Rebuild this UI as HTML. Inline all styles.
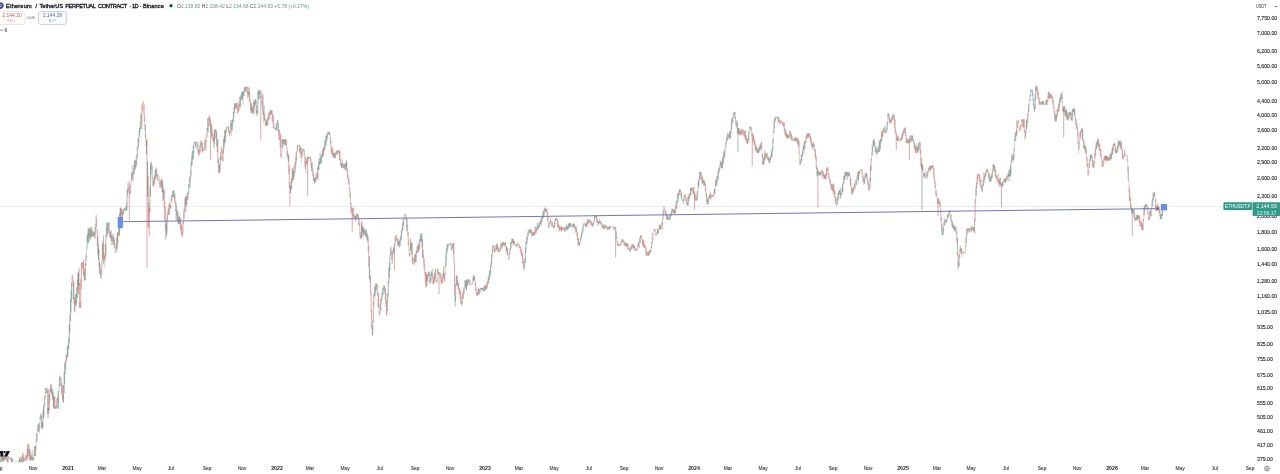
<!DOCTYPE html>
<html lang="en"><head><meta charset="utf-8"><title>ETHUSDT.P chart</title>
<style>
html,body{margin:0;padding:0;background:#fff;}
body{width:1280px;height:474px;overflow:hidden;position:relative;font-family:"Liberation Sans",sans-serif;color:#131722;-webkit-font-smoothing:antialiased;}
#wrap{position:absolute;left:0;top:0;width:1280px;height:474px;overflow:hidden;background:#fff;}
.t{position:absolute;white-space:nowrap;line-height:1;}
.yl{left:1256.8px;font-size:5.8px;color:#131722;-webkit-text-stroke:0.1px #131722;transform:translateY(-50%) scaleX(0.895);transform-origin:0 50%;}
.xl{top:468.5px;font-size:5.7px;color:#2a2e39;-webkit-text-stroke:0.08px #2a2e39;transform:translate(-50%,-50%) scaleX(0.86);}
.xl.b{font-weight:bold;color:#131722;transform:translate(-50%,-50%) scaleX(0.91);}
svg{position:absolute;left:0;top:0;}
</style></head><body><div id="wrap">

<div class="t" style="left:1256.8px;top:214px;font-size:5.8px;color:#131722;transform:scaleX(0.895);transform-origin:0 0;-webkit-text-stroke:0.1px #131722">2,000.00</div>
<svg width="1280" height="474" viewBox="0 0 1280 474">
<line x1="0" y1="206.5" x2="1223" y2="206.5" stroke="#c4c7cf" stroke-width="0.6" stroke-dasharray="0.7 0.5"/>
<defs><clipPath id="cc"><rect x="0" y="0" width="1254" height="462.2"/></clipPath></defs>
<g clip-path="url(#cc)"><path d="M-1.00 454.86V461.32M1.29 454.80V460.42M3.57 455.69V460.49M5.86 454.80V459.47M7.00 455.58V464.62M9.29 457.14V457.74M11.57 457.86V468.70M15.00 461.85V465.13M23.00 452.80V464.69M25.29 455.22V460.70M26.43 455.07V460.54M27.57 443.80V458.52M28.72 443.80V455.53M31.00 454.87V460.20M35.58 445.85V456.31M39.01 423.09V431.87M43.01 409.88V427.69M47.58 390.07V414.21M48.72 388.88V413.10M51.58 384.37V394.29M53.86 396.22V408.70M55.01 396.30V408.70M60.72 377.60V386.27M61.87 383.12V395.22M62.44 385.33V399.41M63.01 394.49V402.70M66.44 354.20V361.74M69.87 314.41V332.69M72.15 275.30V285.78M73.87 280.50V303.36M74.44 297.36V312.22M78.44 271.42V294.21M79.58 282.93V307.70M80.72 278.76V307.70M81.30 262.44V289.08M82.44 262.30V267.80M83.58 259.74V276.01M85.30 263.22V279.95M89.30 228.84V237.05M92.73 231.11V236.70M96.16 214.80V226.78M97.30 229.80V245.59M98.44 244.63V259.98M99.58 262.06V274.24M100.73 268.54V278.70M103.01 240.93V258.76M103.58 235.25V264.36M104.16 254.02V261.24M105.30 243.97V259.63M108.73 222.30V230.77M109.87 231.09V237.65M112.16 234.01V241.28M116.73 237.55V251.33M117.87 232.04V242.98M120.73 207.30V224.08M121.30 209.02V215.33M122.44 211.03V219.54M128.16 187.69V193.11M129.30 181.39V220.00M131.59 172.34V180.58M132.73 172.64V180.42M136.16 156.81V167.04M138.45 137.18V147.48M141.88 104.27V128.80M143.02 101.00V101.60M144.16 104.76V121.92M147.02 138.42V268.00M148.16 175.88V228.00M148.73 202.49V226.90M149.30 207.87V236.00M154.45 175.28V184.32M156.73 168.55V176.23M160.16 180.65V188.35M161.31 179.04V187.81M163.59 189.62V199.15M164.16 188.96V208.04M164.74 201.08V219.99M165.31 207.03V230.45M165.88 224.18V239.70M169.31 203.56V214.75M175.02 194.17V203.00M179.59 216.21V223.86M180.74 217.66V230.69M181.88 224.97V236.77M183.02 221.83V233.61M184.17 207.87V219.21M185.88 196.04V212.27M186.45 196.70V204.80M199.03 149.68V155.70M200.17 142.83V152.65M201.31 140.30V145.91M202.45 142.61V151.76M204.74 139.61V148.18M209.31 116.35V126.14M210.46 119.13V160.00M212.74 131.86V140.58M216.17 129.30V138.00M217.31 138.69V152.05M217.88 138.92V163.49M218.46 159.14V172.72M221.88 147.25V160.00M223.03 149.80V161.67M225.31 130.28V142.14M228.74 125.47V133.15M229.89 130.44V136.36M235.60 103.30V109.18M236.74 103.30V108.23M237.89 106.92V113.70M239.03 103.93V111.41M244.75 86.80V91.75M247.03 86.80V93.22M249.32 87.28V102.11M250.46 100.93V110.52M252.75 105.88V113.20M260.75 92.16V140.00M261.89 96.13V104.64M264.18 105.56V119.98M265.32 118.30V125.70M267.61 117.55V125.70M268.75 112.59V119.88M269.89 110.30V116.43M272.18 110.30V121.03M273.32 115.45V128.20M279.04 130.20V139.98M280.18 135.31V146.96M280.75 133.56V156.41M281.32 153.96V158.20M283.61 139.30V144.85M284.75 139.30V144.06M287.04 147.59V156.15M288.75 155.14V173.62M289.32 165.33V187.60M289.89 182.36V206.00M292.18 168.15V182.88M295.04 161.88V172.95M296.18 151.54V163.93M297.32 145.30V150.78M300.75 146.85V157.63M303.04 149.00V149.60M305.32 156.74V168.72M306.47 159.05V164.38M307.61 156.88V196.00M311.04 158.75V168.28M313.32 172.08V180.78M316.75 172.96V179.00M323.61 147.35V156.17M330.47 137.34V144.82M331.61 146.10V153.91M332.76 147.84V156.51M335.04 152.79V158.20M336.19 150.30V153.89M338.47 150.30V152.52M339.61 150.30V159.99M340.76 158.87V166.07M341.90 162.69V168.07M344.19 163.85V169.19M347.62 169.20V178.86M348.76 177.64V184.78M349.90 187.63V197.63M351.04 202.42V213.42M352.19 207.35V232.00M353.33 208.08V218.10M357.90 214.30V218.56M359.05 217.80V225.87M360.19 231.64V238.70M361.33 222.63V238.70M368.19 236.83V251.12M368.76 246.01V267.53M370.48 275.66V293.65M371.05 291.55V312.35M371.62 310.64V328.99M373.33 301.44V322.36M373.90 293.27V304.95M377.33 284.65V294.98M378.48 293.31V308.40M379.62 311.20V315.70M385.33 288.63V299.83M385.91 292.56V306.66M386.48 299.35V315.25M391.05 247.24V254.35M394.48 243.34V270.00M395.62 235.34V242.07M396.76 235.30V240.51M402.48 222.72V231.17M404.76 214.00V214.60M405.91 214.30V220.51M408.19 231.75V245.42M409.34 252.67V256.40M412.19 242.73V261.74M412.77 257.67V264.45M415.05 253.61V261.84M418.48 244.84V252.03M422.48 239.11V257.43M424.20 258.87V270.39M425.34 271.59V283.03M425.91 272.22V287.64M426.48 273.65V286.75M427.62 274.71V280.87M432.20 269.06V278.25M433.34 278.25V284.20M434.48 272.72V282.38M437.91 268.80V273.63M439.06 272.30V294.00M440.20 272.30V277.51M441.34 277.14V284.20M442.48 274.28V282.84M443.63 266.09V278.73M444.77 272.98V281.94M449.34 243.52V245.17M450.49 243.05V245.25M452.77 243.05V247.81M453.91 243.05V261.94M454.49 262.02V295.95M458.49 283.01V289.76M459.63 288.20V294.36M460.77 291.36V304.18M463.06 291.25V298.97M467.63 279.30V285.89M468.77 279.30V283.17M471.06 284.15V284.75M474.49 276.21V280.50M475.63 282.56V291.21M476.77 292.52V295.70M479.06 288.96V294.35M481.35 288.05V289.10M484.78 285.15V291.46M487.06 281.63V288.72M488.20 276.65V283.87M493.92 245.55V250.92M495.06 249.84V252.28M497.35 243.48V249.03M498.49 247.27V251.70M503.06 241.80V245.14M505.35 241.80V245.10M506.49 245.93V251.91M508.78 258.06V259.45M509.92 248.18V254.41M513.35 239.00V243.84M514.49 241.07V244.91M517.92 243.92V244.52M519.07 244.30V247.70M520.21 246.46V250.53M521.35 249.70V255.29M522.49 253.05V263.04M530.50 229.30V232.93M531.64 229.93V236.00M535.07 226.85V234.20M536.21 228.65V233.30M540.78 219.81V224.82M546.50 208.59V212.58M547.64 212.50V220.72M549.93 221.08V224.03M551.07 220.96V222.49M552.21 221.83V226.11M553.36 226.23V228.20M555.64 218.05V221.41M556.78 218.05V221.18M557.93 220.40V227.24M559.07 225.29V231.70M560.21 226.55V230.28M561.36 225.97V231.70M563.64 227.25V229.38M565.93 227.13V231.25M570.50 223.05V226.64M571.64 225.67V227.04M575.07 225.22V229.41M576.22 226.20V232.11M577.36 232.04V240.11M578.50 238.62V245.70M584.22 223.05V224.26M585.36 223.63V226.79M586.50 222.54V226.70M589.93 220.06V222.78M591.07 221.75V225.49M592.22 223.22V226.70M595.65 215.30V217.71M596.79 215.89V223.15M601.36 222.40V224.84M603.65 224.00V228.98M604.79 224.80V229.45M607.08 226.83V229.61M608.22 226.73V229.64M609.36 226.52V229.94M611.65 226.43V227.03M612.79 226.60V227.20M613.93 226.80V229.95M615.08 226.80V229.79M615.65 226.92V257.50M617.36 241.24V245.70M619.65 244.82V245.70M620.79 242.34V245.70M621.94 239.30V242.78M624.22 241.13V244.80M626.51 243.00V246.07M627.65 243.48V250.14M628.79 246.66V249.20M636.79 248.05V250.70M637.94 243.45V247.33M641.37 234.80V238.45M642.51 239.12V245.25M643.65 240.00V246.98M645.94 250.40V255.70M647.08 252.54V255.70M648.22 251.11V255.70M651.65 241.60V248.44M652.80 232.95V240.97M658.51 229.94V233.55M660.80 224.50V229.71M665.37 210.20V215.19M666.51 213.18V219.59M673.37 208.89V212.71M675.66 205.44V212.79M679.09 189.63V195.37M684.80 195.05V197.72M685.94 196.49V201.62M688.23 194.80V205.70M692.80 188.38V193.95M693.94 186.80V195.07M694.52 191.61V210.00M695.09 193.69V200.70M700.80 172.24V180.14M701.95 177.00V184.41M703.09 178.97V183.08M705.37 183.44V191.59M707.66 198.61V204.70M708.80 196.27V202.44M712.23 195.21V196.70M713.38 194.92V196.70M715.66 179.89V186.66M719.09 168.19V172.86M723.66 150.84V164.30M727.09 134.98V141.36M728.23 133.44V136.82M733.95 111.80V116.11M736.24 119.93V126.48M738.52 127.88V133.76M739.66 130.16V135.70M743.09 130.20V135.67M744.24 130.78V136.60M745.38 130.28V139.97M746.52 136.58V142.56M752.24 132.24V166.00M753.38 134.36V141.26M754.52 139.58V145.21M756.81 146.28V153.20M761.38 141.80V147.76M762.52 154.28V164.19M765.95 153.58V159.19M768.24 156.22V160.16M770.52 155.73V160.42M777.38 116.80V118.07M778.53 117.09V122.60M779.67 120.20V123.40M780.81 119.92V123.12M781.96 121.50V122.10M783.10 121.97V125.57M784.24 121.98V130.69M786.53 132.65V138.20M787.67 134.34V138.20M789.96 130.74V134.64M792.24 136.34V140.70M793.38 140.40V141.00M794.53 137.67V141.52M799.10 141.02V154.32M800.24 161.16V165.04M803.67 144.88V150.19M805.96 136.22V142.35M808.24 133.42V138.57M809.39 133.30V136.79M810.53 136.12V142.42M811.67 140.72V147.30M813.96 141.80V146.63M815.10 148.35V157.48M816.25 156.29V169.32M817.96 171.41V207.50M818.53 170.21V174.13M821.96 169.30V172.01M823.10 171.45V175.97M824.25 174.65V178.73M826.53 168.27V175.38M827.68 166.80V171.10M828.82 172.68V177.97M829.96 178.79V184.40M831.10 183.94V189.25M832.25 184.38V191.27M833.39 184.38V191.16M834.53 189.84V197.04M835.68 196.47V203.97M839.11 190.53V194.25M845.96 171.80V176.45M850.53 178.13V186.29M851.68 187.16V194.70M853.96 185.25V190.43M855.11 183.44V188.74M857.39 171.92V179.67M859.68 170.30V174.03M861.97 169.30V174.20M863.11 175.05V181.83M865.39 173.30V178.19M867.68 177.64V184.76M868.82 183.79V190.70M871.11 158.78V170.93M881.40 131.39V141.46M882.54 130.41V137.08M889.40 116.49V122.77M890.54 119.92V122.75M893.97 113.30V121.17M895.11 119.58V132.90M896.25 132.23V150.00M897.40 136.46V140.70M898.54 136.47V140.70M899.68 140.40V141.00M903.11 130.78V135.94M905.40 127.48V136.37M906.54 137.53V143.20M909.40 139.13V160.00M915.69 146.33V153.20M916.83 146.75V152.86M920.26 142.73V153.42M920.83 149.55V165.64M921.40 157.91V168.82M922.54 164.36V170.36M923.69 173.00V177.65M925.97 177.09V178.20M928.26 168.28V173.06M929.40 166.21V169.96M931.69 165.30V169.02M932.83 165.30V168.98M933.97 168.56V179.63M935.12 180.29V187.81M936.26 190.34V196.60M937.40 198.89V203.94M937.97 198.61V216.00M938.55 198.07V203.84M939.69 201.85V207.23M940.83 209.79V221.84M948.83 211.51V216.70M955.69 227.88V231.66M956.83 231.24V242.99M957.98 252.77V269.45M961.41 248.28V253.27M963.69 251.25V253.20M968.26 228.30V230.69M970.55 227.95V228.81M971.69 226.01V231.37M972.84 227.59V230.59M975.12 198.97V221.70M977.41 174.30V184.06M978.55 174.30V175.97M979.69 174.30V182.43M980.84 179.82V188.00M986.55 169.30V172.66M987.70 169.30V172.85M995.70 169.54V177.32M996.84 176.39V179.25M997.98 178.68V182.66M1001.41 183.08V207.50M1003.70 179.65V182.64M1007.13 175.98V180.20M1011.70 154.24V163.69M1012.84 156.54V160.38M1016.84 120.30V134.73M1017.41 122.85V128.27M1018.56 120.30V122.81M1020.84 124.28V129.49M1021.99 119.30V121.76M1023.13 119.30V127.47M1024.27 119.30V132.92M1027.70 113.21V123.15M1036.84 85.35V91.18M1037.99 91.48V98.86M1039.13 97.59V104.70M1044.85 104.40V105.00M1045.99 99.50V104.70M1048.27 91.96V98.62M1049.42 92.27V98.71M1050.56 94.03V97.81M1052.85 97.00V104.91M1053.99 105.54V113.54M1057.42 109.71V115.99M1058.56 103.60V111.70M1061.99 91.55V99.27M1063.70 107.26V137.50M1067.70 112.26V119.98M1069.99 111.80V115.18M1075.71 117.84V124.41M1077.99 130.11V144.29M1080.28 131.70V139.25M1081.42 128.30V133.42M1087.14 157.32V167.11M1088.28 170.90V175.70M1089.42 159.38V167.82M1092.85 159.56V167.36M1095.14 148.72V157.99M1098.57 139.06V147.06M1099.71 143.66V150.86M1100.85 149.36V157.83M1103.14 160.83V166.70M1104.28 155.85V160.98M1105.42 156.01V160.45M1106.57 155.30V162.43M1107.71 156.45V160.70M1108.85 156.49V160.70M1113.42 143.79V150.55M1114.57 143.30V146.01M1115.71 146.56V153.20M1121.43 142.24V150.20M1122.57 150.09V158.78M1127.14 155.30V160.89M1129.43 187.53V201.28M1130.57 197.66V207.90M1132.28 208.95V236.00M1135.14 217.17V220.70M1138.57 215.30V218.98M1139.71 215.30V222.52M1142.00 221.73V229.94M1143.14 219.03V230.00M1147.71 205.98V214.45M1150.00 209.62V217.34M1154.57 191.80V196.23M1155.72 199.12V206.36M1156.86 207.32V210.40M1158.00 203.85V210.20M1162.57 206.80V215.64" stroke="#c9625e" stroke-width="0.56" opacity="1" fill="none" style="mix-blend-mode:multiply"/><path d="M0.14 460.20V464.35M2.43 454.80V463.10M4.71 454.80V460.15M8.14 456.07V465.97M10.43 457.80V459.64M12.72 459.14V466.36M13.86 465.60V470.28M16.14 461.62V467.14M17.29 463.19V467.49M18.43 461.19V467.17M19.57 457.41V462.22M20.72 459.37V467.74M21.86 456.55V463.15M24.15 457.66V460.70M29.86 449.10V460.33M32.15 450.07V460.23M33.29 456.65V460.70M34.43 445.75V455.98M36.72 432.92V441.92M37.86 424.92V431.44M40.15 415.91V419.88M41.29 414.22V428.51M42.43 422.24V429.12M43.58 405.67V418.11M44.72 395.58V406.13M45.86 387.80V393.79M47.01 387.80V393.04M48.15 407.89V417.79M49.29 393.68V410.17M50.44 384.30V392.55M52.72 388.78V400.08M53.29 392.59V408.08M56.15 405.67V408.70M57.29 397.15V407.55M58.44 390.83V408.70M59.58 376.58V386.14M63.58 384.85V401.96M64.15 371.78V393.01M64.72 362.48V383.70M65.29 361.43V373.19M67.58 345.37V357.03M68.72 337.45V349.11M69.29 323.92V342.71M70.44 300.29V321.02M71.01 290.63V312.67M71.58 282.89V301.52M73.30 282.22V299.18M75.58 294.27V306.25M76.72 287.75V303.61M77.30 279.51V297.95M77.87 273.06V290.03M79.01 268.06V285.45M80.15 302.75V307.70M84.72 268.07V280.70M85.87 254.92V266.20M87.01 235.33V249.37M88.15 227.61V241.46M88.73 228.86V243.18M90.44 227.30V239.19M91.58 227.30V237.55M93.87 231.63V236.70M95.01 226.90V239.10M97.87 235.79V254.88M99.01 249.36V267.76M101.87 260.71V274.66M102.44 243.70V260.81M105.87 234.90V256.29M106.44 222.30V236.38M107.59 222.30V233.36M111.01 230.01V240.81M113.30 236.47V244.43M114.44 239.35V248.55M115.59 252.40V253.00M117.30 232.82V248.62M119.02 224.50V235.24M119.59 212.92V235.76M120.16 207.96V229.30M123.59 209.71V214.08M124.73 208.00V210.70M125.87 206.08V210.70M127.02 190.07V210.17M130.44 185.45V193.43M133.87 164.29V174.28M135.02 160.23V168.96M137.30 146.35V157.83M139.59 127.61V136.91M140.73 115.12V129.04M145.30 124.53V137.72M146.45 140.13V154.77M147.59 161.46V196.78M149.88 186.29V212.24M150.45 163.87V196.33M151.02 161.80V174.17M152.16 166.02V179.20M153.31 180.22V186.48M155.59 169.44V178.78M157.88 173.69V180.70M159.02 183.11V183.71M162.45 180.27V192.39M163.02 184.44V201.07M166.45 221.83V236.24M167.02 215.16V232.86M168.16 208.47V215.15M170.45 204.86V209.21M171.59 195.18V201.33M172.74 191.01V197.09M173.88 190.30V198.01M176.16 202.69V220.05M177.31 210.88V221.43M178.45 216.61V224.32M185.31 197.23V207.35M187.59 192.87V199.81M188.74 184.02V193.72M189.88 175.90V187.81M191.02 161.49V176.50M192.17 151.00V164.89M193.31 145.21V159.30M194.45 141.80V142.59M195.60 141.80V146.39M196.74 141.80V142.93M197.88 143.51V152.56M203.60 148.77V150.70M205.88 141.11V150.70M207.03 127.51V136.81M208.17 118.57V132.49M211.60 124.18V136.74M213.88 137.75V148.20M214.46 129.30V144.33M215.03 129.30V139.50M216.74 132.04V146.62M219.60 163.71V173.01M220.17 156.45V170.82M220.74 151.80V160.20M223.60 139.15V153.31M224.17 136.68V147.77M224.74 129.60V143.71M226.46 127.30V132.84M227.60 127.00V127.60M231.03 120.01V129.61M232.17 119.48V130.98M233.31 111.83V122.39M234.46 103.30V113.41M240.17 96.46V106.45M241.32 93.43V99.49M242.46 91.87V99.84M243.60 91.07V96.36M245.89 86.80V91.12M248.17 91.34V96.71M251.60 102.90V113.20M253.89 100.50V114.41M255.03 99.37V104.84M256.18 100.10V113.39M257.32 110.54V115.70M257.89 91.64V112.72M258.46 90.30V99.24M259.60 90.30V98.91M263.03 93.85V114.82M266.46 120.34V125.70M271.03 110.30V114.91M274.46 127.86V128.46M275.61 127.55V130.11M276.75 124.28V129.06M277.89 120.30V131.10M282.46 139.15V148.11M285.89 139.30V145.35M288.18 153.56V161.44M290.47 185.78V193.10M291.61 178.65V189.03M292.75 169.31V180.34M293.89 165.45V179.91M298.47 145.00V145.60M299.61 145.30V152.84M301.89 147.89V154.76M304.18 149.30V157.22M308.75 156.80V158.95M309.90 156.80V158.25M312.18 162.64V171.67M314.47 177.86V183.60M315.61 177.19V181.58M317.90 166.44V180.01M319.04 161.65V170.06M320.18 153.02V163.95M321.33 155.26V163.21M322.47 150.02V157.35M324.75 140.01V150.19M325.90 135.42V145.31M327.04 133.72V140.67M328.18 131.80V134.65M329.33 131.80V135.23M333.90 153.33V158.20M337.33 151.39V154.91M343.04 163.39V168.20M345.33 163.23V170.66M346.47 160.30V169.82M354.47 214.76V218.20M355.62 215.76V221.28M356.76 212.78V217.94M361.90 221.31V237.07M362.47 226.05V232.56M363.62 227.63V235.34M364.76 230.26V235.06M365.90 228.89V237.00M367.05 232.75V240.39M369.33 256.25V279.31M372.76 320.70V335.70M375.05 286.68V296.12M376.19 283.30V290.52M380.76 298.87V310.67M381.91 293.07V300.56M383.05 287.55V294.70M384.19 285.39V291.77M387.62 293.40V310.67M388.19 280.98V296.80M388.76 267.90V284.17M389.33 262.99V278.12M389.91 254.67V270.63M392.19 252.19V263.86M393.33 246.58V253.20M397.91 238.32V246.09M399.05 240.25V246.08M400.19 236.88V245.81M401.34 230.15V239.36M403.62 218.23V225.61M407.05 218.80V231.38M410.48 238.94V250.89M411.62 242.33V254.49M413.91 258.27V264.45M416.19 251.31V262.11M417.34 246.69V252.63M419.62 238.99V249.76M420.77 235.38V241.73M421.91 233.31V247.26M423.05 250.06V259.04M428.77 271.80V276.15M429.91 273.59V283.63M431.05 272.32V281.51M435.63 268.80V278.20M436.77 280.03V281.70M445.91 253.23V266.63M447.06 244.30V253.41M448.20 244.30V247.52M451.63 245.66V250.45M455.06 296.07V306.70M455.63 284.12V301.39M456.20 274.73V286.18M457.34 276.04V285.36M461.92 301.52V305.70M464.20 287.00V293.54M465.34 280.23V287.74M466.49 280.14V290.48M469.92 279.69V284.48M472.20 282.61V284.45M473.35 275.33V281.24M477.92 289.25V295.70M480.20 288.05V289.57M482.49 287.71V290.24M483.63 288.64V290.82M485.92 286.19V290.06M489.35 271.10V279.98M490.49 265.16V274.95M491.63 253.98V265.49M492.78 245.30V253.25M496.20 244.79V250.80M499.63 249.59V251.70M500.78 243.19V249.48M501.92 242.29V246.78M504.21 242.70V245.89M507.63 248.41V255.43M511.06 241.99V248.34M512.21 238.89V243.31M515.64 245.04V245.70M516.78 243.72V247.38M523.64 261.81V269.64M524.78 258.28V268.36M525.35 247.37V262.66M525.92 241.55V252.70M527.07 236.44V243.51M528.21 230.49V236.27M529.35 229.87V233.92M532.78 231.85V235.67M533.92 231.58V235.40M537.35 222.42V230.25M538.50 225.34V228.46M539.64 222.40V227.54M541.92 216.38V222.45M543.07 211.23V218.48M544.21 208.28V215.37M545.35 208.47V211.79M548.78 223.10V228.20M554.50 222.01V227.37M562.50 227.85V230.27M564.78 228.19V231.56M567.07 226.04V229.69M568.21 223.72V229.48M569.36 223.15V228.10M572.79 224.11V226.29M573.93 223.36V228.09M579.64 241.87V245.70M580.79 235.89V240.81M581.93 231.42V236.25M583.07 224.45V231.63M587.64 219.33V224.20M588.79 219.30V222.91M593.36 221.70V225.47M594.50 215.83V220.91M597.93 221.22V225.31M599.08 221.08V223.49M600.22 220.75V223.01M602.50 225.49V227.57M605.93 225.54V227.66M610.50 226.32V227.94M616.22 231.07V238.50M618.51 244.01V245.70M623.08 239.30V242.03M625.36 242.63V246.62M629.94 248.75V251.32M631.08 246.24V249.85M632.22 244.30V247.21M633.37 244.30V248.04M634.51 245.82V249.49M635.65 249.41V250.70M639.08 241.08V248.18M640.22 236.24V242.98M644.79 244.72V248.58M649.37 251.11V255.07M650.51 249.98V252.90M653.94 229.00V229.60M655.08 229.30V231.27M656.23 233.59V235.00M657.37 229.03V233.55M659.65 225.56V229.16M661.94 221.47V224.89M663.08 210.42V219.67M664.23 206.80V209.27M667.65 214.32V219.70M668.80 217.62V219.70M669.94 214.80V219.70M671.08 211.41V216.34M672.23 208.53V211.64M674.51 209.30V213.70M676.80 201.10V208.59M677.94 192.95V202.01M680.23 189.30V192.08M681.37 192.39V199.25M682.51 199.98V200.70M683.66 198.92V203.99M687.09 202.68V205.70M689.37 193.80V198.85M690.51 187.89V195.24M691.66 187.86V191.21M696.23 197.71V200.70M697.37 190.93V199.25M698.52 179.82V188.16M699.66 171.80V179.39M704.23 181.00V186.04M706.52 193.11V202.13M709.95 194.15V197.96M711.09 194.20V197.80M714.52 188.76V193.65M716.80 176.21V185.51M717.95 170.69V178.51M720.23 160.76V167.70M721.38 162.04V168.31M722.52 157.75V168.00M724.81 149.46V157.32M725.95 141.55V147.36M729.38 131.58V138.36M730.52 130.56V138.23M731.66 118.98V130.17M732.81 116.79V122.34M735.09 112.20V119.40M737.38 121.76V133.87M737.95 128.42V152.00M740.81 130.89V134.48M741.95 129.30V135.30M747.66 138.83V144.04M748.81 131.43V141.10M749.95 126.80V128.68M751.09 126.80V130.88M755.67 144.37V151.64M757.95 148.79V153.20M759.10 147.00V152.76M760.24 144.73V149.75M763.67 157.12V165.03M764.81 150.51V160.69M767.10 152.62V157.34M769.38 158.10V163.20M771.67 150.09V157.12M772.81 138.63V151.25M773.95 120.74V132.76M775.10 116.80V121.84M776.24 116.50V117.10M785.38 130.22V135.97M788.81 134.25V138.20M791.10 133.83V140.22M795.67 138.15V141.20M796.81 137.32V142.01M797.96 138.62V145.27M801.39 154.50V162.21M802.53 150.30V156.40M804.82 141.33V149.53M807.10 133.50V138.51M812.82 144.11V149.82M817.39 168.04V175.70M819.67 172.15V175.14M820.82 171.31V174.74M825.39 174.31V179.49M836.82 198.87V205.70M837.96 192.97V200.93M840.25 187.89V199.02M841.39 193.02V195.70M842.53 183.91V192.32M843.68 175.67V183.94M844.82 171.80V180.08M847.11 171.80V180.00M848.25 172.84V176.09M849.39 171.80V176.33M852.82 188.77V193.19M856.25 180.31V185.26M858.54 171.18V180.16M860.82 169.00V169.60M864.25 177.25V183.83M866.54 173.30V177.56M869.97 177.31V189.08M870.54 165.32V181.99M872.25 145.68V155.63M873.39 138.98V146.30M874.54 140.36V146.46M875.68 146.14V152.45M876.82 148.00V154.17M877.97 146.52V151.81M879.11 140.60V152.01M880.25 139.39V149.66M883.68 127.80V131.47M884.83 125.32V132.88M885.97 131.81V133.20M887.11 121.92V130.70M888.25 113.30V116.88M891.68 117.83V122.46M892.83 114.63V119.78M900.83 138.39V140.70M901.97 134.31V139.10M904.26 128.23V133.07M907.69 139.12V143.20M908.83 139.28V143.20M909.97 135.65V141.14M911.11 135.30V142.46M912.26 135.62V140.70M913.40 139.00V143.12M914.54 142.48V149.70M917.97 144.84V152.72M919.12 142.95V150.43M921.97 163.33V210.00M924.83 173.02V176.10M927.12 171.29V177.51M930.54 165.90V170.55M941.98 223.53V234.71M943.12 227.15V234.84M944.26 218.19V225.57M945.40 220.38V222.80M946.55 219.36V222.99M947.69 214.45V218.20M949.98 210.30V212.44M951.12 214.53V221.58M952.26 221.05V227.37M953.40 224.43V228.87M954.55 226.18V230.75M957.41 237.86V254.65M959.12 254.57V266.10M960.26 245.72V251.75M962.55 252.90V253.50M964.84 252.90V253.50M965.98 236.59V247.04M967.12 228.30V235.79M969.41 228.30V232.03M973.98 227.04V230.82M974.55 218.75V233.20M976.26 183.00V196.25M981.98 185.39V191.37M983.12 179.21V185.98M984.27 175.54V180.19M985.41 172.65V176.87M988.84 173.58V178.95M989.98 178.78V181.70M991.12 175.63V181.70M992.27 169.80V177.63M993.41 164.30V170.13M994.55 165.21V171.95M999.12 179.55V186.41M1000.27 178.01V185.57M1002.55 181.91V186.70M1004.84 178.52V182.63M1005.98 178.27V182.48M1008.27 173.00V177.02M1009.41 170.17V176.18M1010.56 164.96V176.37M1013.98 148.67V159.37M1015.13 132.56V140.79M1016.27 129.82V136.59M1019.70 129.58V130.70M1025.41 130.27V137.86M1026.56 119.81V129.51M1028.84 104.14V112.22M1029.99 94.87V101.05M1031.13 89.30V91.98M1032.27 89.30V96.19M1033.41 98.10V105.72M1034.56 105.82V111.70M1035.13 94.19V109.25M1035.70 86.37V100.88M1040.27 101.94V104.70M1041.42 102.03V104.70M1042.56 101.12V103.69M1043.70 101.43V104.77M1047.13 99.68V104.70M1051.70 94.14V98.17M1055.13 113.29V121.70M1056.28 114.75V121.70M1059.70 98.27V106.67M1060.85 93.69V102.59M1063.13 106.20V111.91M1064.28 106.17V112.35M1065.42 109.57V115.86M1066.56 108.63V117.38M1068.85 112.44V119.36M1071.13 112.09V120.26M1072.28 109.65V120.70M1073.42 108.30V111.98M1074.56 108.30V116.61M1076.85 123.17V129.74M1079.13 141.33V149.32M1082.56 128.75V140.42M1083.71 139.82V148.28M1084.85 144.99V150.14M1085.99 146.42V153.69M1090.57 155.25V161.53M1091.71 154.30V157.97M1093.99 160.50V168.20M1096.28 141.90V149.20M1097.42 139.65V145.90M1102.00 159.28V166.70M1110.00 153.43V160.70M1111.14 152.77V159.25M1112.28 147.40V154.31M1116.85 150.02V153.20M1118.00 142.13V150.40M1119.14 141.24V145.35M1120.28 140.89V148.54M1123.71 154.94V158.66M1124.86 149.32V155.34M1126.00 155.00V155.60M1128.28 166.65V180.59M1131.71 207.42V213.82M1132.86 208.75V212.26M1134.00 209.90V217.67M1136.29 214.64V220.70M1137.43 214.99V220.19M1140.86 221.52V226.91M1144.29 205.96V215.25M1145.43 204.30V208.80M1146.57 204.30V205.95M1148.86 217.27V220.30M1151.14 207.87V216.06M1152.29 198.63V206.55M1153.43 193.61V199.59M1159.14 206.86V213.72M1160.29 214.77V219.45M1161.43 213.84V219.31" stroke="#58827a" stroke-width="0.56" opacity="1" fill="none" style="mix-blend-mode:multiply"/><path d="M5.29 454.80V460.14M6.43 454.55V458.60M7.57 458.29V465.29M8.72 456.76V458.29M9.86 457.50V458.10M11.00 457.80V461.20M12.14 458.14V468.68M13.29 466.53V469.70M14.43 462.55V471.07M15.57 462.00V471.06M17.86 462.30V467.64M19.00 460.37V468.70M21.29 458.08V466.98M22.43 452.80V461.78M23.57 455.31V462.55M24.72 459.96V460.70M27.00 448.90V459.87M28.15 449.19V456.43M30.43 452.08V460.70M31.58 455.86V460.70M32.72 458.00V460.70M33.86 454.25V460.70M38.43 424.01V429.45M45.29 387.80V398.90M49.86 389.76V402.50M54.44 396.58V408.53M57.86 392.63V403.27M61.29 379.25V392.99M72.72 275.30V281.29M75.01 300.43V312.70M83.01 261.81V273.21M91.01 230.91V236.30M92.15 228.01V235.66M93.30 231.78V236.70M107.01 228.14V236.32M110.44 231.58V238.33M111.59 234.96V245.38M112.73 236.57V245.38M115.01 246.62V252.70M123.02 209.07V215.50M128.73 182.50V190.28M129.87 190.30V194.97M135.59 160.45V169.96M142.45 101.30V111.63M143.59 101.30V112.61M144.73 116.85V130.00M145.88 134.83V146.26M151.59 161.80V169.31M152.73 177.45V186.30M153.88 178.24V185.70M156.16 167.17V177.80M157.31 174.73V180.70M158.45 180.18V180.78M159.59 176.33V187.59M167.59 211.55V221.02M168.74 203.68V214.96M169.88 197.29V207.48M171.02 200.86V208.26M174.45 192.27V201.92M176.74 206.77V215.71M179.02 213.05V224.25M181.31 223.22V234.98M182.45 231.63V237.16M188.17 191.46V198.84M189.31 177.89V187.21M190.45 170.13V181.65M197.31 141.80V147.35M198.45 148.81V155.70M199.60 145.85V154.28M205.31 137.01V146.57M206.45 134.61V142.29M208.74 115.55V119.88M209.88 115.55V124.86M212.17 126.56V138.42M213.31 134.52V142.23M215.60 129.30V132.51M219.03 165.83V172.96M221.31 146.16V152.42M228.17 127.30V129.52M229.31 129.91V135.72M230.46 123.11V133.30M235.03 103.30V108.15M238.46 101.31V111.08M239.60 96.95V107.41M246.46 86.80V88.52M247.60 86.80V98.82M249.89 92.40V101.67M251.03 103.56V113.20M253.32 102.08V111.75M254.46 100.20V108.36M256.75 105.26V115.70M261.32 90.30V97.73M269.32 111.67V120.07M270.46 110.30V114.85M272.75 113.35V123.29M279.61 129.06V139.93M286.46 139.84V148.32M293.32 172.00V178.96M299.04 145.27V145.87M300.18 145.86V153.16M302.47 149.30V157.50M303.61 149.30V152.19M304.75 157.12V166.71M309.32 156.80V158.35M310.47 156.80V161.23M311.61 162.42V171.60M315.04 178.51V181.77M316.18 173.85V182.50M317.33 167.51V177.99M324.18 145.03V150.84M328.76 131.80V134.00M331.04 140.04V152.20M332.18 148.93V155.77M333.33 151.26V156.60M337.90 150.30V152.45M340.19 151.86V161.68M343.61 166.27V168.20M344.76 163.73V168.97M345.90 161.72V167.05M348.19 174.13V182.09M349.33 180.31V189.79M352.76 207.91V215.94M353.90 214.74V218.20M355.04 218.12V218.72M358.47 214.30V224.84M359.62 222.94V234.21M363.05 226.61V236.70M364.19 228.08V233.23M367.62 233.67V242.47M372.19 325.96V335.70M376.76 284.23V286.82M377.90 292.51V306.35M379.05 302.95V313.19M381.33 296.50V304.16M384.76 285.95V294.14M387.05 309.53V315.70M391.62 250.80V259.62M392.76 250.04V257.36M397.34 238.16V244.40M398.48 241.62V246.25M406.48 217.17V227.65M408.77 240.51V252.54M414.48 255.20V262.61M415.62 254.34V262.97M416.77 245.81V254.06M417.91 242.87V253.05M423.62 255.26V265.12M424.77 263.91V275.81M429.34 271.30V275.66M432.77 273.53V284.20M436.20 278.09V284.20M440.77 273.78V281.90M449.91 242.75V243.35M456.77 276.09V285.01M459.06 285.47V294.65M461.34 295.74V303.23M469.34 283.57V285.08M470.49 283.93V284.53M471.63 284.15V284.75M473.92 275.30V281.39M475.06 277.19V285.54M476.20 287.24V295.44M477.35 291.99V295.70M484.20 284.91V291.70M486.49 283.92V289.89M487.63 280.13V286.65M491.06 259.98V268.70M492.20 250.26V258.61M494.49 247.64V251.91M495.63 245.50V251.40M497.92 246.58V253.20M499.06 250.26V251.70M501.35 244.65V249.23M503.63 242.59V245.76M504.78 242.37V247.27M507.06 247.49V254.77M508.21 254.16V259.45M512.78 238.05V243.32M516.21 243.93V245.83M517.35 242.95V245.46M519.64 244.30V248.35M520.78 247.29V253.67M521.92 250.43V256.81M523.07 256.34V264.75M524.21 268.96V270.70M528.78 229.30V231.32M531.07 229.30V232.89M535.64 226.53V232.75M537.92 226.50V230.01M539.07 221.53V226.49M545.93 208.65V212.58M547.07 209.03V214.96M548.21 216.26V223.78M549.35 222.33V227.12M552.78 223.25V227.45M553.93 224.73V228.20M556.21 218.05V220.14M557.36 219.57V227.04M560.78 226.30V230.55M561.93 227.05V229.82M564.21 227.04V231.70M568.79 223.05V227.04M569.93 223.05V226.40M572.21 224.83V227.90M580.22 238.13V243.57M584.79 223.04V225.60M590.50 220.32V223.85M591.65 220.99V224.97M593.93 219.76V223.60M597.36 218.47V222.55M598.50 221.19V224.37M600.79 222.00V224.53M603.08 226.12V228.67M605.36 225.22V227.40M606.50 225.85V228.46M612.22 226.73V227.33M613.36 226.80V228.54M614.51 226.80V228.16M616.79 236.28V242.35M617.93 243.52V245.70M620.22 243.29V245.70M623.65 240.63V244.49M624.79 242.99V246.26M625.94 243.20V247.16M628.22 243.85V246.97M629.36 248.06V251.70M632.79 244.30V248.85M633.94 245.17V250.70M635.08 246.84V250.70M637.37 246.16V250.00M638.51 241.98V245.87M639.65 238.01V242.41M641.94 237.56V242.07M643.08 241.40V246.20M644.22 242.13V247.42M645.37 245.44V251.56M646.51 246.83V255.70M648.80 251.73V255.70M649.94 249.35V252.28M653.37 229.30V235.20M654.51 229.30V232.30M655.65 230.32V236.31M660.23 225.00V229.50M661.37 223.90V229.62M662.51 218.48V229.01M664.80 208.52V212.96M665.94 210.86V216.49M667.08 215.72V219.70M668.23 217.74V219.70M671.66 208.30V215.04M672.80 209.77V213.95M673.94 210.30V213.70M680.80 190.96V196.40M683.09 198.77V201.13M685.37 194.30V198.83M689.94 193.52V198.01M691.09 187.51V195.25M692.23 186.80V189.52M693.37 187.38V193.37M695.66 194.57V200.08M701.37 171.80V179.48M704.80 180.22V185.35M705.95 187.55V197.08M709.37 194.45V198.37M710.52 191.95V199.96M711.66 196.46V198.72M720.80 161.48V165.48M728.81 135.01V139.23M735.66 116.64V124.43M740.24 128.10V134.84M741.38 129.30V133.37M742.52 129.30V130.87M743.66 129.82V133.35M744.81 131.49V138.21M745.95 134.54V140.37M747.09 140.23V144.45M748.24 134.83V143.18M751.67 128.95V136.70M752.81 134.41V143.01M753.95 137.06V143.73M755.09 141.26V149.58M756.24 146.54V149.57M761.95 144.99V157.22M763.10 161.02V165.70M764.24 155.15V163.62M765.38 152.81V156.59M766.52 153.75V158.31M773.38 130.40V143.03M777.95 116.80V120.81M780.24 121.07V125.13M781.38 121.07V122.15M785.96 129.01V137.03M787.10 134.75V138.20M789.38 131.09V137.85M791.67 133.80V139.55M792.81 138.79V140.70M795.10 136.60V141.21M796.24 137.11V139.96M797.39 138.61V143.74M798.53 138.91V147.03M799.67 153.39V164.51M800.81 157.98V164.33M805.39 139.72V144.11M807.67 133.30V136.34M808.82 133.30V136.54M809.96 133.30V139.17M812.24 142.28V146.79M822.53 171.31V179.08M825.96 173.19V178.93M827.10 166.99V179.27M828.25 168.34V174.82M829.39 175.54V181.25M831.68 183.68V189.83M832.82 183.08V193.82M835.10 190.78V201.43M836.25 204.03V205.70M840.82 191.96V196.28M843.11 181.93V191.66M844.25 176.80V182.16M848.82 172.52V176.37M849.96 174.76V182.19M852.25 187.59V194.70M855.68 179.61V184.89M861.39 169.00V169.60M862.54 172.14V178.93M865.97 173.30V175.68M868.25 180.56V188.44M869.39 187.39V190.70M873.97 139.25V143.47M875.11 142.72V151.66M877.40 150.26V154.70M878.54 148.40V152.87M883.11 130.05V135.90M884.25 128.80V132.22M885.40 129.44V133.49M889.97 118.62V124.70M891.11 117.96V122.79M894.54 117.08V127.88M895.68 128.41V134.77M897.97 137.87V140.70M901.40 136.75V140.70M903.68 128.53V134.32M904.83 127.36V130.44M905.97 132.02V142.95M907.11 139.97V143.20M910.54 138.32V141.59M911.69 135.30V138.53M912.83 135.49V141.03M915.11 144.22V149.94M918.54 142.32V149.28M919.69 140.53V144.93M925.40 168.03V177.90M929.97 166.11V172.29M931.12 165.30V167.79M933.40 165.30V174.59M934.55 174.88V183.90M939.12 200.39V203.73M941.40 216.89V230.30M943.69 223.04V231.49M945.98 218.82V221.70M949.40 210.30V213.92M950.55 213.15V219.00M951.69 219.73V225.47M952.83 223.84V228.17M953.98 225.72V231.75M955.12 226.32V229.60M959.69 248.83V257.84M961.98 248.88V256.70M966.55 229.30V243.13M967.69 228.39V231.57M968.84 228.30V233.45M969.98 228.30V230.52M972.26 225.97V229.32M973.41 227.62V232.57M976.84 176.35V188.66M977.98 174.30V178.98M979.12 174.30V178.35M982.55 183.75V192.08M983.69 171.92V185.46M984.84 172.98V183.21M987.12 169.30V171.30M988.27 170.38V177.47M990.55 175.27V181.63M992.84 164.30V173.09M993.98 164.30V167.44M997.41 174.03V179.51M998.55 173.99V183.81M999.70 178.04V184.08M1000.84 181.99V186.70M1001.98 181.98V186.70M1006.55 175.01V180.06M1007.70 173.83V178.39M1019.13 123.79V129.61M1020.27 126.34V130.70M1022.56 119.38V126.58M1024.84 134.01V140.70M1025.99 124.38V134.42M1028.27 107.11V116.66M1029.41 99.71V105.84M1037.42 87.16V95.10M1038.56 91.58V99.55M1039.70 99.47V104.70M1043.13 100.82V104.97M1044.27 103.31V104.70M1047.70 95.35V101.97M1048.85 91.53V101.43M1051.13 95.49V98.23M1052.27 96.21V100.92M1054.56 110.61V119.72M1055.70 113.83V121.49M1057.99 106.83V111.81M1062.56 97.04V110.92M1064.85 105.96V116.09M1067.13 114.16V120.09M1070.56 112.50V117.91M1073.99 108.30V112.35M1075.13 111.52V120.06M1076.28 119.73V128.00M1077.42 125.78V136.84M1078.56 144.58V153.20M1079.71 133.09V142.73M1083.14 133.66V142.68M1084.28 142.51V149.70M1085.42 146.34V153.24M1086.56 149.55V161.38M1087.71 163.08V175.28M1089.99 154.30V159.34M1092.28 156.40V166.60M1094.57 152.93V164.07M1097.99 138.05V143.67M1099.14 142.99V150.62M1100.28 148.43V155.05M1101.42 153.29V160.32M1102.57 164.97V166.70M1103.71 157.68V165.02M1108.28 157.25V160.70M1110.57 154.15V159.04M1112.85 144.55V155.04M1116.28 148.25V153.20M1118.57 139.30V147.82M1119.71 140.27V145.60M1120.85 142.64V147.69M1122.00 146.87V155.40M1123.14 156.06V159.70M1125.43 153.38V154.30M1126.57 155.30V155.95M1127.71 159.69V173.12M1128.86 179.76V192.13M1130.00 192.79V200.26M1133.43 209.48V214.24M1135.71 218.38V220.70M1136.86 216.07V219.71M1139.14 215.44V226.48M1140.29 219.49V225.71M1141.43 223.34V229.46M1142.57 225.00V230.70M1143.71 209.09V221.01M1146.00 204.30V206.66M1147.14 204.30V210.95M1148.29 212.00V219.92M1149.43 211.92V220.43M1155.14 195.13V202.10M1156.29 204.82V210.62M1157.43 204.42V209.25M1158.57 205.96V211.61M1159.72 208.67V216.06" stroke="#c9625e" stroke-width="0.56" opacity="0.6" fill="none" style="mix-blend-mode:multiply"/><path d="M-0.43 457.26V462.33M0.71 455.47V463.85M1.86 454.80V461.23M3.00 455.10V463.33M4.14 454.80V460.39M16.72 463.51V467.77M20.15 456.81V467.41M25.86 459.74V460.70M29.29 446.09V459.70M35.00 447.19V456.11M36.15 438.96V449.93M37.29 429.15V439.66M39.58 421.55V432.82M40.72 412.47V418.45M41.86 416.53V426.95M44.15 403.14V416.97M46.43 387.80V389.24M51.01 387.64V393.02M52.15 390.89V397.79M55.58 406.72V408.70M56.72 398.99V408.70M59.01 383.87V393.31M60.15 375.75V380.58M65.87 355.26V369.12M67.01 348.02V359.46M68.15 342.81V355.66M76.15 292.91V306.39M81.87 262.30V270.14M84.15 272.08V281.38M86.44 249.14V260.56M87.58 232.57V243.33M89.87 227.30V241.18M94.44 233.04V236.70M95.58 223.29V234.31M96.73 218.46V230.74M100.16 263.87V275.50M101.30 274.72V278.70M104.73 256.17V268.30M108.16 223.16V236.67M109.30 222.30V234.07M113.87 233.71V245.51M116.16 243.06V252.70M118.44 227.45V236.12M121.87 208.04V221.12M124.16 208.46V210.70M125.30 208.36V210.70M126.44 201.73V210.70M127.59 183.07V196.10M131.02 177.69V186.08M132.16 165.12V177.45M133.30 168.45V180.69M134.45 159.88V173.86M136.73 154.27V164.76M137.87 138.61V150.63M139.02 130.54V143.09M140.16 122.03V132.62M141.30 112.43V122.15M155.02 169.27V180.30M160.73 180.67V185.66M161.88 178.42V192.30M172.16 193.54V200.71M173.31 190.30V196.70M175.59 201.64V211.57M177.88 209.87V222.21M180.17 218.35V229.37M183.59 211.03V223.81M184.74 198.52V211.76M187.02 193.04V205.51M191.60 155.83V166.36M192.74 151.26V159.71M193.88 141.92V152.61M195.02 141.80V147.30M196.17 141.80V148.83M200.74 140.30V148.44M201.88 142.91V152.96M203.03 146.83V150.70M204.17 146.74V150.70M207.60 117.94V130.82M211.03 123.65V131.89M222.46 157.71V161.61M225.89 130.87V137.84M227.03 127.30V129.43M231.60 122.79V135.58M232.74 119.02V126.97M233.89 107.51V118.65M236.17 103.30V108.43M237.32 102.45V113.70M240.74 94.98V108.20M241.89 90.89V99.95M243.03 90.88V104.67M244.17 87.91V96.08M245.32 86.80V92.09M248.75 87.81V94.32M252.17 108.07V113.20M255.60 98.61V105.59M259.03 90.30V93.45M260.18 90.30V94.22M262.46 101.85V110.20M263.60 110.50V122.88M264.75 113.83V120.96M265.89 119.22V125.70M267.03 122.60V125.70M268.18 116.22V123.88M271.61 110.30V114.28M273.89 123.73V128.20M275.03 127.32V128.20M276.18 122.49V131.11M277.32 120.30V124.44M278.46 122.99V135.33M281.89 139.33V153.00M283.04 139.30V143.53M284.18 139.30V146.66M285.32 139.30V146.36M287.61 150.83V158.00M291.04 181.38V190.47M294.47 170.35V176.89M295.61 156.18V168.98M296.75 150.60V160.52M297.89 145.30V149.82M301.32 152.94V163.20M305.90 161.77V173.20M307.04 156.80V164.05M308.18 156.80V161.77M312.75 168.41V176.41M313.90 174.34V181.38M318.47 158.64V169.96M319.61 158.19V165.04M320.75 157.68V163.97M321.90 153.41V159.03M323.04 148.09V155.11M325.33 141.23V147.27M326.47 135.64V142.23M327.61 131.80V137.57M329.90 133.23V139.28M334.47 153.65V157.63M335.61 152.25V158.20M336.76 150.30V154.54M339.04 150.30V153.72M341.33 162.79V168.20M342.47 159.74V166.30M347.04 163.26V171.90M350.47 192.98V205.37M351.62 206.89V211.72M356.19 214.94V219.30M357.33 213.45V216.87M360.76 234.80V238.70M365.33 230.98V236.21M366.47 229.98V238.17M369.90 268.91V282.55M374.48 285.84V298.33M375.62 283.30V292.62M380.19 304.42V313.12M382.48 288.23V296.93M383.62 285.30V289.46M390.48 246.96V255.47M393.91 247.78V253.17M395.05 236.71V246.86M396.19 235.00V235.60M399.62 240.48V248.20M400.76 235.58V241.24M401.91 227.59V236.12M403.05 218.97V229.58M404.19 214.30V218.05M405.34 214.30V216.40M407.62 224.55V236.10M409.91 247.00V255.88M411.05 243.67V247.32M413.34 263.45V264.45M419.05 242.47V248.29M420.20 233.27V241.82M421.34 233.05V241.30M427.05 274.73V285.92M428.20 271.80V282.83M430.48 277.57V283.83M431.63 271.30V275.81M433.91 275.64V284.20M435.05 269.71V280.00M437.34 268.80V281.70M438.48 271.31V274.29M439.63 272.30V274.91M441.91 279.38V284.20M443.06 270.65V276.43M444.20 274.35V281.07M445.34 261.91V274.16M446.48 247.80V261.24M447.63 244.30V250.41M448.77 244.00V244.60M451.06 243.05V245.60M452.20 244.27V250.90M453.34 243.05V254.49M457.91 280.37V287.83M460.20 289.64V299.29M462.49 293.99V303.17M463.63 288.48V298.28M464.77 279.95V286.91M465.92 281.78V289.33M467.06 279.30V286.39M468.20 279.30V282.87M472.77 277.97V283.74M478.49 287.47V293.67M479.63 289.04V293.93M480.77 288.05V293.05M481.92 288.05V290.93M483.06 287.17V291.47M485.35 285.14V288.89M488.78 275.56V283.09M489.92 269.83V277.19M493.35 245.30V247.12M496.78 243.69V249.94M500.21 247.50V251.70M502.49 242.15V247.98M505.92 243.05V249.61M509.35 251.93V258.82M510.49 242.19V250.96M511.64 238.71V243.97M513.92 240.90V246.09M515.06 244.53V245.70M518.49 244.00V244.60M526.49 237.51V244.89M527.64 232.79V239.30M529.92 229.30V232.85M532.21 234.16V236.70M533.35 232.34V235.60M534.50 231.58V235.52M536.78 226.66V230.80M540.21 220.65V224.32M541.35 216.55V225.81M542.50 215.58V219.20M543.64 210.73V216.96M544.78 206.80V210.81M550.50 217.86V222.27M551.64 221.80V227.00M555.07 218.64V224.02M558.50 224.27V228.20M559.64 226.70V229.23M563.07 227.96V229.21M565.36 225.86V228.62M566.50 223.68V229.39M567.64 225.92V230.80M571.07 223.32V226.71M573.36 223.66V225.99M574.50 224.60V228.70M575.64 227.83V233.02M576.79 228.66V236.83M577.93 236.97V244.50M579.07 242.71V245.70M581.36 233.13V239.24M582.50 227.62V233.43M583.64 223.20V226.79M585.93 224.22V226.82M587.07 221.95V226.70M588.22 220.60V226.09M589.36 219.30V221.14M592.79 223.61V226.70M595.07 215.30V217.63M596.22 215.30V217.78M599.65 218.63V223.53M601.93 222.80V227.74M604.22 225.75V228.47M607.65 227.15V229.77M608.79 226.41V228.31M609.93 226.55V229.80M611.08 226.15V226.75M619.08 243.86V245.70M621.36 240.33V243.77M622.51 239.30V240.89M627.08 242.86V245.72M630.51 247.09V251.67M631.65 244.36V248.77M636.22 250.19V250.79M640.79 234.80V237.37M647.65 252.58V255.42M651.08 246.50V251.65M652.22 236.60V244.11M656.80 232.28V234.45M657.94 228.03V233.50M659.08 224.78V230.15M663.65 206.80V213.64M669.37 216.10V219.70M670.51 214.31V218.61M675.08 209.96V213.70M676.23 200.37V209.21M677.37 194.09V203.30M678.51 193.54V199.10M679.66 189.30V194.49M681.94 193.65V199.35M684.23 194.21V200.31M686.51 198.73V204.58M687.66 197.20V205.70M688.80 197.24V202.02M696.80 193.53V200.70M697.94 182.78V193.11M699.09 176.81V185.82M700.23 171.80V175.73M702.52 175.14V182.97M703.66 179.92V185.15M707.09 201.08V204.70M708.23 197.39V204.60M712.80 194.92V196.70M713.95 190.50V196.35M715.09 185.01V194.06M716.23 179.16V185.66M717.38 176.53V182.13M718.52 167.42V180.33M719.66 165.51V170.90M721.95 161.61V169.50M723.09 155.93V161.30M724.23 151.88V158.79M725.38 145.74V150.69M726.52 137.09V143.89M727.66 132.90V139.81M729.95 135.29V139.14M731.09 123.82V134.29M732.23 118.24V124.42M733.38 113.35V118.06M734.52 111.80V114.19M736.81 123.13V128.72M739.09 128.13V134.40M749.38 126.80V133.28M750.52 126.80V128.83M757.38 148.67V152.79M758.52 149.14V153.00M759.67 144.57V150.59M760.81 142.31V149.86M767.67 156.61V159.90M768.81 158.18V163.20M769.95 157.28V162.81M771.10 152.73V157.74M772.24 147.06V157.80M774.53 118.44V128.72M775.67 116.80V120.17M776.81 116.80V118.41M779.10 117.12V121.39M782.53 121.80V125.05M783.67 123.60V127.40M784.81 128.05V134.25M788.24 135.41V138.20M790.53 131.61V136.67M793.96 139.79V140.70M801.96 154.81V160.44M803.10 146.24V154.34M804.24 140.93V154.01M806.53 134.27V138.83M811.10 137.39V144.55M813.39 143.37V147.21M814.53 144.64V151.63M815.67 149.94V159.86M816.82 166.19V175.70M819.10 172.55V175.70M820.25 171.84V175.69M821.39 170.43V175.73M823.67 171.67V178.58M824.82 175.24V179.04M830.53 180.14V186.29M833.96 184.38V194.27M837.39 197.54V204.09M838.53 190.55V198.44M839.68 190.53V194.77M841.96 186.76V193.63M845.39 171.85V177.56M846.53 171.80V175.91M847.68 171.80V175.25M851.11 181.83V189.17M853.39 187.81V192.30M854.54 183.14V187.87M856.82 176.54V182.26M857.96 174.21V184.46M859.11 171.37V176.61M860.25 169.30V171.90M863.68 179.10V185.12M864.82 174.56V183.24M867.11 173.30V181.34M871.68 151.81V160.57M872.82 140.91V151.67M876.25 150.41V154.70M879.68 141.30V151.74M880.82 138.00V144.63M881.97 132.54V140.88M886.54 126.68V133.20M887.68 113.34V125.36M888.83 113.30V119.49M892.25 115.17V119.11M893.40 114.87V117.40M896.83 133.91V140.52M899.11 140.40V141.00M900.26 137.72V140.70M902.54 132.53V139.65M908.26 140.84V143.20M913.97 142.03V146.81M916.26 143.82V153.20M917.40 147.41V152.16M923.12 166.71V172.71M924.26 173.44V178.20M926.54 174.01V177.61M927.69 171.86V175.99M928.83 167.28V170.65M932.26 165.30V167.86M935.69 185.25V195.03M936.83 193.52V199.34M940.26 200.28V210.45M942.55 230.50V235.70M944.83 221.34V225.17M947.12 216.36V220.87M948.26 213.60V218.19M956.26 225.59V233.48M958.55 261.47V267.28M960.83 248.07V254.24M963.12 252.54V253.20M964.26 252.79V253.39M965.41 246.23V253.20M971.12 228.04V232.31M975.69 188.87V202.73M980.27 176.73V186.44M981.41 186.90V190.68M985.98 170.92V175.85M989.41 173.06V181.70M991.70 173.25V179.07M995.12 166.62V176.99M996.27 175.50V181.94M1003.13 183.39V186.58M1004.27 178.61V180.99M1005.41 177.91V182.94M1008.84 169.16V181.91M1009.98 169.28V180.39M1011.13 160.30V173.75M1012.27 154.18V159.68M1013.41 154.61V161.90M1014.56 138.33V150.42M1015.70 132.69V141.18M1017.98 120.30V123.78M1021.41 119.30V126.66M1023.70 119.80V128.00M1027.13 118.33V127.13M1030.56 90.15V96.31M1031.70 89.00V89.60M1032.84 92.53V100.93M1033.99 103.31V109.55M1036.27 85.30V92.06M1040.84 103.72V104.70M1041.99 100.45V104.70M1045.42 104.39V104.99M1046.56 100.02V104.70M1049.99 93.36V98.71M1053.42 100.13V108.64M1056.85 109.47V118.76M1059.13 103.32V110.83M1060.28 96.48V102.57M1061.42 93.72V98.68M1065.99 110.52V120.49M1068.28 116.13V120.70M1069.42 112.76V116.79M1071.71 117.58V120.55M1072.85 108.30V115.56M1080.85 129.99V136.72M1081.99 128.30V132.22M1088.85 163.25V172.42M1091.14 154.30V159.48M1093.42 164.66V168.20M1095.71 145.21V155.48M1096.85 142.21V149.33M1104.85 155.30V160.14M1106.00 155.68V159.74M1107.14 156.06V160.20M1109.42 157.20V160.70M1111.71 149.74V159.30M1114.00 143.30V145.94M1115.14 143.30V153.20M1117.43 145.70V152.24M1124.28 153.05V156.39M1131.14 204.06V210.97M1134.57 212.51V220.29M1138.00 215.30V218.48M1144.86 204.30V210.47M1150.57 211.11V216.61M1151.72 202.83V209.39M1152.86 191.80V201.88M1154.00 191.80V195.79M1160.86 210.87V218.93M1162.00 209.56V216.22" stroke="#58827a" stroke-width="0.56" opacity="0.6" fill="none" style="mix-blend-mode:multiply"/></g>
<line x1="122.5" y1="221.7" x2="1158" y2="208.6" stroke="#6572b8" stroke-width="0.95"/>
<path d="M1155 206.6L1159 208.6L1155.2 210.4" stroke="#7a4a6a" stroke-width="0.8" fill="none"/>
<rect x="117.7" y="217" width="5.2" height="11" fill="#6a8ae4"/>
<rect x="1160.8" y="204" width="6.2" height="6.3" fill="#6a8ae4"/>
<rect x="1223.4" y="202.3" width="28.8" height="7.8" rx="0.8" fill="#2f9a86"/>
<rect x="1252.6" y="202.3" width="27.4" height="13.8" rx="0.8" fill="#2f9a86"/>
<rect x="-2" y="11.6" width="27" height="12.8" rx="2" fill="#fff" stroke="#f0c4c4" stroke-width="0.6"/>
<rect x="38.6" y="11.6" width="27.6" height="12.8" rx="2" fill="#fff" stroke="#a9b0e0" stroke-width="0.7"/>
<circle cx="0.3" cy="5.6" r="3.4" fill="#4a5590"/>
<circle cx="0.3" cy="5.6" r="1.6" fill="#8a93c8"/>
<circle cx="171" cy="5.7" r="2.8" fill="#e2f4ee"/>
<circle cx="171" cy="5.7" r="1.45" fill="#0c3b30"/>
<path d="M0.4 29.6L1.6 30.8L2.8 29.6" stroke="#131722" stroke-width="0.6" fill="none"/>
<path d="M1274.6 5.9L1276.2 7.2L1277.8 5.9Z" fill="#50535e"/>
<circle cx="1267" cy="468.6" r="2.4" fill="none" stroke="#3a3e49" stroke-width="0.6"/><circle cx="1267" cy="468.6" r="0.9" fill="none" stroke="#3a3e49" stroke-width="0.5"/>
<path d="M-1 450.9H3.3V456.4H0.4V453.4H-1Z" fill="#131722"/><circle cx="4.7" cy="452.1" r="1.1" fill="#131722"/><path d="M6.6 450.9H10L7.4 456.4H4.3Z" fill="#131722"/>
</svg>
<div class="t" style="left:5.7px;top:4px;font-size:5.66px;color:#131722;-webkit-text-stroke:0.3px #131722;width:160px;height:5.7px;"><span style="position:absolute;left:0.3px;top:0;letter-spacing:0.170px">Ethereum</span><span style="position:absolute;left:29.7px;top:0;letter-spacing:0.000px">/</span><span style="position:absolute;left:33.7px;top:0;letter-spacing:0.019px">TetherUS</span><span style="position:absolute;left:59.5px;top:0;letter-spacing:-0.362px">PERPETUAL</span><span style="position:absolute;left:92.2px;top:0;letter-spacing:-0.305px">CONTRACT</span><span style="position:absolute;left:123.5px;top:0;letter-spacing:0.000px">·</span><span style="position:absolute;left:126.4px;top:0;letter-spacing:-0.618px">1D</span><span style="position:absolute;left:134.1px;top:0;letter-spacing:0.000px">·</span><span style="position:absolute;left:137.2px;top:0;letter-spacing:0.092px">Binance</span></div>
<div class="t" style="left:177px;top:4px;font-size:5.0px;color:#6a998e;"><span style="color:#3a3e49">O</span>2,138.80 <span style="color:#3a3e49">H</span>2,158.42 <span style="color:#3a3e49">L</span>2,134.58 <span style="color:#3a3e49">C</span>2,144.59 +5.79 (+0.27%)</div>
<div class="t" style="left:12px;top:13px;font-size:5.0px;color:#bb6462;transform:translateX(-50%);transform-origin:50% 0;">2,144.20</div>
<div class="t" style="left:11.5px;top:20px;font-size:3.6px;color:#e09a98;transform:translateX(-50%);transform-origin:50% 0;">SELL</div>
<div class="t" style="left:31.4px;top:16px;font-size:4.2px;color:#50535e;transform:translateX(-50%) scaleX(0.85);transform-origin:50% 0;">0.09</div>
<div class="t" style="left:52.4px;top:13px;font-size:5.0px;color:#5961b4;transform:translateX(-50%);transform-origin:50% 0;">2,144.29</div>
<div class="t" style="left:52.4px;top:20px;font-size:3.6px;color:#8f98e0;transform:translateX(-50%);transform-origin:50% 0;">BUY</div>
<div class="t" style="left:4.6px;top:28px;font-size:5.0px;color:#2a2e39;">6</div>
<div class="t" style="left:1256px;top:4px;font-size:5.2px;color:#2a2e39;transform:scaleX(0.72);transform-origin:0 0;">USDT</div>
<div class="t" style="left:1237.8px;top:205px;font-size:4.6px;color:#fff;transform:translateX(-50%);transform-origin:50% 0;">ETHUSDT.P</div>
<div class="t" style="left:1266.6px;top:204px;font-size:5.3px;color:#fff;transform:translateX(-50%);transform-origin:50% 0;">2,144.59</div>
<div class="t" style="left:1266.6px;top:211px;font-size:5.0px;color:#e4f4f0;transform:translateX(-50%);transform-origin:50% 0;">22:56:17</div>
<div class="t" style="left:1256.8px;top:16px;font-size:5.8px;color:#131722;transform:scaleX(0.895);transform-origin:0 0;-webkit-text-stroke:0.1px #131722;">7,750.00</div>
<div class="t" style="left:1256.8px;top:31px;font-size:5.8px;color:#131722;transform:scaleX(0.895);transform-origin:0 0;-webkit-text-stroke:0.1px #131722;">7,000.00</div>
<div class="t" style="left:1256.8px;top:49px;font-size:5.8px;color:#131722;transform:scaleX(0.895);transform-origin:0 0;-webkit-text-stroke:0.1px #131722;">6,200.00</div>
<div class="t" style="left:1256.8px;top:64px;font-size:5.8px;color:#131722;transform:scaleX(0.895);transform-origin:0 0;-webkit-text-stroke:0.1px #131722;">5,600.00</div>
<div class="t" style="left:1256.8px;top:80px;font-size:5.8px;color:#131722;transform:scaleX(0.895);transform-origin:0 0;-webkit-text-stroke:0.1px #131722;">5,000.00</div>
<div class="t" style="left:1256.8px;top:99px;font-size:5.8px;color:#131722;transform:scaleX(0.895);transform-origin:0 0;-webkit-text-stroke:0.1px #131722;">4,400.00</div>
<div class="t" style="left:1256.8px;top:113px;font-size:5.8px;color:#131722;transform:scaleX(0.895);transform-origin:0 0;-webkit-text-stroke:0.1px #131722;">4,000.00</div>
<div class="t" style="left:1256.8px;top:128px;font-size:5.8px;color:#131722;transform:scaleX(0.895);transform-origin:0 0;-webkit-text-stroke:0.1px #131722;">3,600.00</div>
<div class="t" style="left:1256.8px;top:146px;font-size:5.8px;color:#131722;transform:scaleX(0.895);transform-origin:0 0;-webkit-text-stroke:0.1px #131722;">3,200.00</div>
<div class="t" style="left:1256.8px;top:160px;font-size:5.8px;color:#131722;transform:scaleX(0.895);transform-origin:0 0;-webkit-text-stroke:0.1px #131722;">2,900.00</div>
<div class="t" style="left:1256.8px;top:176px;font-size:5.8px;color:#131722;transform:scaleX(0.895);transform-origin:0 0;-webkit-text-stroke:0.1px #131722;">2,600.00</div>
<div class="t" style="left:1256.8px;top:194px;font-size:5.8px;color:#131722;transform:scaleX(0.895);transform-origin:0 0;-webkit-text-stroke:0.1px #131722;">2,300.00</div>
<div class="t" style="left:1256.8px;top:230px;font-size:5.8px;color:#131722;transform:scaleX(0.895);transform-origin:0 0;-webkit-text-stroke:0.1px #131722;">1,800.00</div>
<div class="t" style="left:1256.8px;top:247px;font-size:5.8px;color:#131722;transform:scaleX(0.895);transform-origin:0 0;-webkit-text-stroke:0.1px #131722;">1,600.00</div>
<div class="t" style="left:1256.8px;top:262px;font-size:5.8px;color:#131722;transform:scaleX(0.895);transform-origin:0 0;-webkit-text-stroke:0.1px #131722;">1,440.00</div>
<div class="t" style="left:1256.8px;top:279px;font-size:5.8px;color:#131722;transform:scaleX(0.895);transform-origin:0 0;-webkit-text-stroke:0.1px #131722;">1,280.00</div>
<div class="t" style="left:1256.8px;top:294px;font-size:5.8px;color:#131722;transform:scaleX(0.895);transform-origin:0 0;-webkit-text-stroke:0.1px #131722;">1,160.00</div>
<div class="t" style="left:1256.8px;top:310px;font-size:5.8px;color:#131722;transform:scaleX(0.895);transform-origin:0 0;-webkit-text-stroke:0.1px #131722;">1,035.00</div>
<div class="t" style="left:1256.8px;top:325px;font-size:5.8px;color:#131722;transform:scaleX(0.895);transform-origin:0 0;-webkit-text-stroke:0.1px #131722;">935.00</div>
<div class="t" style="left:1256.8px;top:342px;font-size:5.8px;color:#131722;transform:scaleX(0.895);transform-origin:0 0;-webkit-text-stroke:0.1px #131722;">835.00</div>
<div class="t" style="left:1256.8px;top:357px;font-size:5.8px;color:#131722;transform:scaleX(0.895);transform-origin:0 0;-webkit-text-stroke:0.1px #131722;">755.00</div>
<div class="t" style="left:1256.8px;top:373px;font-size:5.8px;color:#131722;transform:scaleX(0.895);transform-origin:0 0;-webkit-text-stroke:0.1px #131722;">675.00</div>
<div class="t" style="left:1256.8px;top:386px;font-size:5.8px;color:#131722;transform:scaleX(0.895);transform-origin:0 0;-webkit-text-stroke:0.1px #131722;">615.00</div>
<div class="t" style="left:1256.8px;top:401px;font-size:5.8px;color:#131722;transform:scaleX(0.895);transform-origin:0 0;-webkit-text-stroke:0.1px #131722;">555.00</div>
<div class="t" style="left:1256.8px;top:415px;font-size:5.8px;color:#131722;transform:scaleX(0.895);transform-origin:0 0;-webkit-text-stroke:0.1px #131722;">505.00</div>
<div class="t" style="left:1256.8px;top:429px;font-size:5.8px;color:#131722;transform:scaleX(0.895);transform-origin:0 0;-webkit-text-stroke:0.1px #131722;">461.00</div>
<div class="t" style="left:1256.8px;top:443px;font-size:5.8px;color:#131722;transform:scaleX(0.895);transform-origin:0 0;-webkit-text-stroke:0.1px #131722;">417.00</div>
<div class="t" style="left:1256.8px;top:457px;font-size:5.8px;color:#131722;transform:scaleX(0.895);transform-origin:0 0;-webkit-text-stroke:0.1px #131722;">379.00</div>
<div class="t" style="left:-1.8px;top:466px;font-size:5.7px;color:#2a2e39;transform:translateX(-50%) scaleX(0.86);transform-origin:50% 0;-webkit-text-stroke:0.08px #2a2e39;">Sep</div>
<div class="t" style="left:33.0px;top:466px;font-size:5.7px;color:#2a2e39;transform:translateX(-50%) scaleX(0.86);transform-origin:50% 0;-webkit-text-stroke:0.08px #2a2e39;">Nov</div>
<div class="t" style="left:67.9px;top:466px;font-size:5.7px;color:#131722;transform:translateX(-50%) scaleX(0.91);transform-origin:50% 0;font-weight:bold;">2021</div>
<div class="t" style="left:101.6px;top:466px;font-size:5.7px;color:#2a2e39;transform:translateX(-50%) scaleX(0.86);transform-origin:50% 0;-webkit-text-stroke:0.08px #2a2e39;">Mar</div>
<div class="t" style="left:136.5px;top:466px;font-size:5.7px;color:#2a2e39;transform:translateX(-50%) scaleX(0.86);transform-origin:50% 0;-webkit-text-stroke:0.08px #2a2e39;">May</div>
<div class="t" style="left:171.3px;top:466px;font-size:5.7px;color:#2a2e39;transform:translateX(-50%) scaleX(0.86);transform-origin:50% 0;-webkit-text-stroke:0.08px #2a2e39;">Jul</div>
<div class="t" style="left:206.8px;top:466px;font-size:5.7px;color:#2a2e39;transform:translateX(-50%) scaleX(0.86);transform-origin:50% 0;-webkit-text-stroke:0.08px #2a2e39;">Sep</div>
<div class="t" style="left:241.6px;top:466px;font-size:5.7px;color:#2a2e39;transform:translateX(-50%) scaleX(0.86);transform-origin:50% 0;-webkit-text-stroke:0.08px #2a2e39;">Nov</div>
<div class="t" style="left:276.5px;top:466px;font-size:5.7px;color:#131722;transform:translateX(-50%) scaleX(0.91);transform-origin:50% 0;font-weight:bold;">2022</div>
<div class="t" style="left:310.2px;top:466px;font-size:5.7px;color:#2a2e39;transform:translateX(-50%) scaleX(0.86);transform-origin:50% 0;-webkit-text-stroke:0.08px #2a2e39;">Mar</div>
<div class="t" style="left:345.1px;top:466px;font-size:5.7px;color:#2a2e39;transform:translateX(-50%) scaleX(0.86);transform-origin:50% 0;-webkit-text-stroke:0.08px #2a2e39;">May</div>
<div class="t" style="left:379.9px;top:466px;font-size:5.7px;color:#2a2e39;transform:translateX(-50%) scaleX(0.86);transform-origin:50% 0;-webkit-text-stroke:0.08px #2a2e39;">Jul</div>
<div class="t" style="left:415.4px;top:466px;font-size:5.7px;color:#2a2e39;transform:translateX(-50%) scaleX(0.86);transform-origin:50% 0;-webkit-text-stroke:0.08px #2a2e39;">Sep</div>
<div class="t" style="left:450.2px;top:466px;font-size:5.7px;color:#2a2e39;transform:translateX(-50%) scaleX(0.86);transform-origin:50% 0;-webkit-text-stroke:0.08px #2a2e39;">Nov</div>
<div class="t" style="left:485.1px;top:466px;font-size:5.7px;color:#131722;transform:translateX(-50%) scaleX(0.91);transform-origin:50% 0;font-weight:bold;">2023</div>
<div class="t" style="left:518.8px;top:466px;font-size:5.7px;color:#2a2e39;transform:translateX(-50%) scaleX(0.86);transform-origin:50% 0;-webkit-text-stroke:0.08px #2a2e39;">Mar</div>
<div class="t" style="left:553.7px;top:466px;font-size:5.7px;color:#2a2e39;transform:translateX(-50%) scaleX(0.86);transform-origin:50% 0;-webkit-text-stroke:0.08px #2a2e39;">May</div>
<div class="t" style="left:588.5px;top:466px;font-size:5.7px;color:#2a2e39;transform:translateX(-50%) scaleX(0.86);transform-origin:50% 0;-webkit-text-stroke:0.08px #2a2e39;">Jul</div>
<div class="t" style="left:624.0px;top:466px;font-size:5.7px;color:#2a2e39;transform:translateX(-50%) scaleX(0.86);transform-origin:50% 0;-webkit-text-stroke:0.08px #2a2e39;">Sep</div>
<div class="t" style="left:658.8px;top:466px;font-size:5.7px;color:#2a2e39;transform:translateX(-50%) scaleX(0.86);transform-origin:50% 0;-webkit-text-stroke:0.08px #2a2e39;">Nov</div>
<div class="t" style="left:693.7px;top:466px;font-size:5.7px;color:#131722;transform:translateX(-50%) scaleX(0.91);transform-origin:50% 0;font-weight:bold;">2024</div>
<div class="t" style="left:728.0px;top:466px;font-size:5.7px;color:#2a2e39;transform:translateX(-50%) scaleX(0.86);transform-origin:50% 0;-webkit-text-stroke:0.08px #2a2e39;">Mar</div>
<div class="t" style="left:762.8px;top:466px;font-size:5.7px;color:#2a2e39;transform:translateX(-50%) scaleX(0.86);transform-origin:50% 0;-webkit-text-stroke:0.08px #2a2e39;">May</div>
<div class="t" style="left:797.7px;top:466px;font-size:5.7px;color:#2a2e39;transform:translateX(-50%) scaleX(0.86);transform-origin:50% 0;-webkit-text-stroke:0.08px #2a2e39;">Jul</div>
<div class="t" style="left:833.1px;top:466px;font-size:5.7px;color:#2a2e39;transform:translateX(-50%) scaleX(0.86);transform-origin:50% 0;-webkit-text-stroke:0.08px #2a2e39;">Sep</div>
<div class="t" style="left:868.0px;top:466px;font-size:5.7px;color:#2a2e39;transform:translateX(-50%) scaleX(0.86);transform-origin:50% 0;-webkit-text-stroke:0.08px #2a2e39;">Nov</div>
<div class="t" style="left:902.9px;top:466px;font-size:5.7px;color:#131722;transform:translateX(-50%) scaleX(0.91);transform-origin:50% 0;font-weight:bold;">2025</div>
<div class="t" style="left:936.6px;top:466px;font-size:5.7px;color:#2a2e39;transform:translateX(-50%) scaleX(0.86);transform-origin:50% 0;-webkit-text-stroke:0.08px #2a2e39;">Mar</div>
<div class="t" style="left:971.4px;top:466px;font-size:5.7px;color:#2a2e39;transform:translateX(-50%) scaleX(0.86);transform-origin:50% 0;-webkit-text-stroke:0.08px #2a2e39;">May</div>
<div class="t" style="left:1006.3px;top:466px;font-size:5.7px;color:#2a2e39;transform:translateX(-50%) scaleX(0.86);transform-origin:50% 0;-webkit-text-stroke:0.08px #2a2e39;">Jul</div>
<div class="t" style="left:1041.7px;top:466px;font-size:5.7px;color:#2a2e39;transform:translateX(-50%) scaleX(0.86);transform-origin:50% 0;-webkit-text-stroke:0.08px #2a2e39;">Sep</div>
<div class="t" style="left:1076.6px;top:466px;font-size:5.7px;color:#2a2e39;transform:translateX(-50%) scaleX(0.86);transform-origin:50% 0;-webkit-text-stroke:0.08px #2a2e39;">Nov</div>
<div class="t" style="left:1111.5px;top:466px;font-size:5.7px;color:#131722;transform:translateX(-50%) scaleX(0.91);transform-origin:50% 0;font-weight:bold;">2026</div>
<div class="t" style="left:1145.2px;top:466px;font-size:5.7px;color:#2a2e39;transform:translateX(-50%) scaleX(0.86);transform-origin:50% 0;-webkit-text-stroke:0.08px #2a2e39;">Mar</div>
<div class="t" style="left:1180.0px;top:466px;font-size:5.7px;color:#2a2e39;transform:translateX(-50%) scaleX(0.86);transform-origin:50% 0;-webkit-text-stroke:0.08px #2a2e39;">May</div>
<div class="t" style="left:1214.9px;top:466px;font-size:5.7px;color:#2a2e39;transform:translateX(-50%) scaleX(0.86);transform-origin:50% 0;-webkit-text-stroke:0.08px #2a2e39;">Jul</div>
<div class="t" style="left:1250.3px;top:466px;font-size:5.7px;color:#2a2e39;transform:translateX(-50%) scaleX(0.86);transform-origin:50% 0;-webkit-text-stroke:0.08px #2a2e39;">Sep</div>
</div></body></html>
